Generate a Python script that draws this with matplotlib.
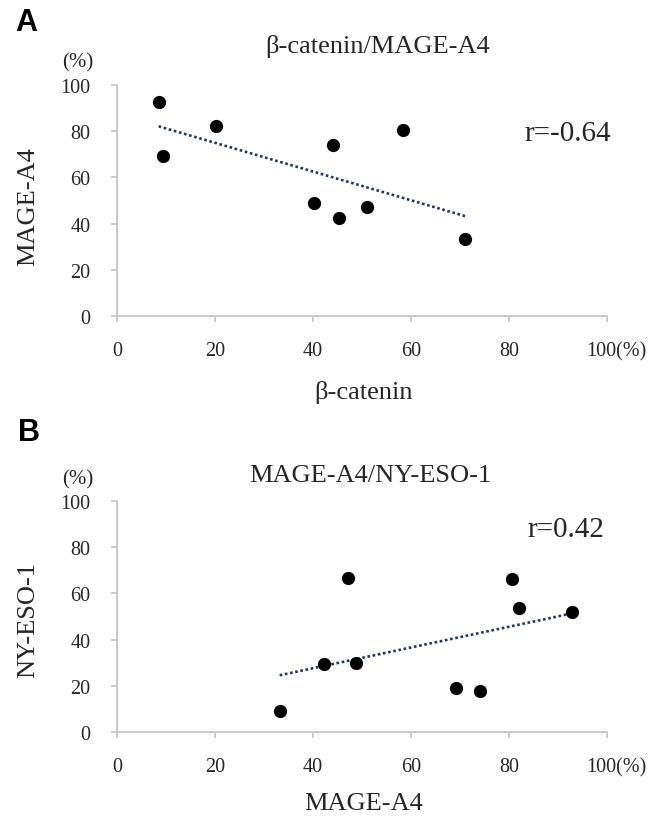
import numpy as np
import matplotlib
matplotlib.use('Agg')
import matplotlib.pyplot as plt
from matplotlib.transforms import ScaledTranslation

plt.rcParams['font.family'] = ['Liberation Serif', 'DejaVu Serif']

# panel A: beta-catenin vs MAGE-A4 (%)
catenin_a = [8.5, 9.3, 20.2, 40.3, 44.1, 45.4, 51.1, 58.3, 71.1]
mage_a = [92.8, 69.1, 82.1, 48.8, 74.1, 42.3, 47.1, 80.6, 33.2]
r_a = "r=-0.64"

# panel B: MAGE-A4 vs NY-ESO-1 (%)
mage_b = [33.2, 42.3, 48.8, 47.1, 69.1, 74.1, 80.6, 82.1, 92.8]
nyeso_b = [8.9, 29.6, 29.7, 66.5, 19.0, 17.6, 66.1, 53.5, 51.9]
r_b = "r=0.42"

ticks = [0, 20, 40, 60, 80, 100]
xticklabels = ['0', '20', '40', '60', '80', '100(%)']

W, H = 651, 820
fig = plt.figure(figsize=(W/100, H/100), dpi=100)

def px(x, y):
    return x/W, 1 - y/H

spine_col = '#c4c4c4'
text_col = '#262626'

def panel(rect, xs, ys, title, xlabel, ylabel, rtext, letter, pos):
    ax = fig.add_axes(rect)
    ax.set_xlim(0, 100)
    ax.set_ylim(0, 100)
    for s in ['top', 'right']:
        ax.spines[s].set_visible(False)
    for s in ['left', 'bottom']:
        ax.spines[s].set_color(spine_col)
        ax.spines[s].set_linewidth(1.3)
    ax.set_xticks(ticks)
    ax.set_xticklabels(xticklabels)
    ax.set_yticks(ticks)
    ax.tick_params(axis='x', length=4, width=1.2, color=spine_col, pad=14,
                   labelsize=14.5, labelcolor=text_col)
    ax.tick_params(axis='y', length=4, width=1.2, color=spine_col, pad=15,
                   labelsize=14.5, labelcolor=text_col)
    lab = ax.get_xticklabels()[-1]
    lab.set_transform(lab.get_transform() + ScaledTranslation(0.09, 0, fig.dpi_scale_trans))

    ax.plot(xs, ys, 'o', color='black', markersize=8.5, clip_on=False, zorder=3)
    k, b = np.polyfit(xs, ys, 1)
    xl = np.array([min(xs), max(xs)])
    ax.plot(xl, k*xl + b, linestyle=(0, (1, 1)), color='#27365a', lw=1.9, zorder=2)

    tx, ty, xlx, xly, ylx, yly, rx, ry, lx, ly, px_, py_ = pos
    fig.text(*px(tx, ty), title, ha='center', va='center', fontsize=19, color=text_col)
    fig.text(*px(xlx, xly), xlabel, ha='center', va='center', fontsize=19, color=text_col)
    fig.text(*px(ylx, yly), ylabel, ha='center', va='center', fontsize=19,
             rotation=90, color=text_col)
    fig.text(*px(rx, ry), rtext, ha='center', va='center', fontsize=21, color=text_col)
    fig.text(*px(lx, ly), letter, ha='center', va='center', fontsize=22,
             fontweight='bold', family='Liberation Sans', color='black')
    fig.text(*px(px_, py_), '(%)', ha='center', va='center', fontsize=15, color=text_col)
    return ax

# axes rectangles from pixel positions
axA = panel([117/W, 1 - 317/H, 490/W, 231/H], catenin_a, mage_a,
            'β-catenin/MAGE-A4', 'β-catenin', 'MAGE-A4', r_a, 'A',
            (378, 46, 364, 393, 28, 207, 568, 134, 26, 23, 78, 63))
axB = panel([117/W, 1 - 733/H, 490/W, 231/H], mage_b, nyeso_b,
            'MAGE-A4/NY-ESO-1', 'MAGE-A4', 'NY-ESO-1', r_b, 'B',
            (370, 476, 364, 804, 28, 620, 566, 530, 29, 433, 78, 480))

fig.savefig('out.png', dpi=100)
